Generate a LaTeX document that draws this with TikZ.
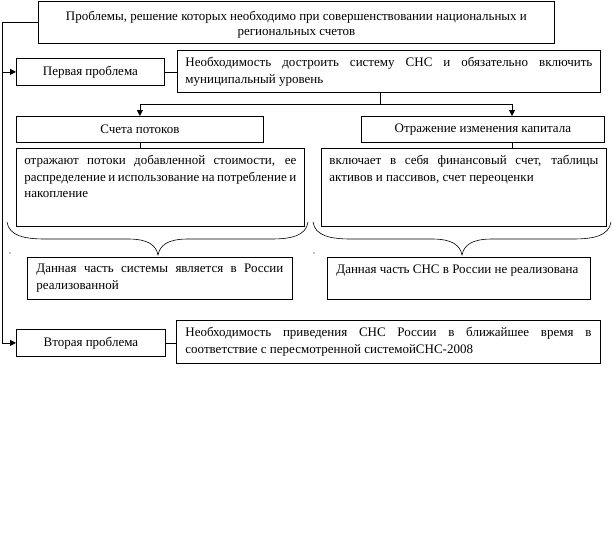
\documentclass[tikz,border=0pt]{standalone}
\usepackage{fontspec}
\setmainfont{Liberation Serif}
\usetikzlibrary{arrows.meta}
\newcommand\mytopbox[3]{\parbox[c][#2][t]{#1}{#3}}
\begin{document}
\begin{tikzpicture}[x=1pt,y=-1pt,
  box/.style={draw, line width=0.8pt, inner sep=0pt, anchor=north west,
    font=\fontsize{13}{16.5}\selectfont},
  ln/.style={line width=0.8pt},
  arr/.style={line width=0.8pt, -{Triangle[length=6pt,width=6pt]}}]
\useasboundingbox (0,0) rectangle (613,557);
% boxes
\node[box, minimum width=516pt, minimum height=42pt, align=center,
  font=\fontsize{13}{15}\selectfont] (top) at (38,1)
  {\rule{0pt}{13pt}Проблемы, решение которых необходимо при совершенствовании национальных и\\ региональных счетов};
\node[box, minimum width=148pt, minimum height=27pt] (p1) at (16,58) {Первая проблема};
\node[box, inner xsep=8pt, inner ysep=7pt] (r1) at (177,50)
  {\mytopbox{407pt}{28pt}{Необходимость достроить систему СНС и обязательно включить\linebreak муниципальный уровень}};
\node[box, minimum width=247pt, minimum height=26pt] (s1) at (16,116) {Счета потоков};
\node[box, minimum width=243pt, minimum height=26pt] (s2) at (361,116) {Отражение изменения капитала};
\node[box, inner xsep=8pt, inner ysep=7pt] (b1) at (16,148)
  {\mytopbox{272pt}{64pt}{отражают потоки добавленной стоимости, ее\linebreak распределение и использование на потребление и\linebreak накопление}};
\node[box, inner xsep=8pt, inner ysep=7pt] (b2) at (321,148)
  {\mytopbox{269pt}{64pt}{включает в себя финансовый счет, таблицы\linebreak активов и пассивов, счет переоценки}};
\node[box, inner xsep=9pt, inner ysep=7pt] (d1) at (27,257)
  {\mytopbox{247pt}{28pt}{Данная часть системы является в России\linebreak реализованной}};
\node[box, inner xsep=9pt, inner ysep=7pt] (d2) at (327,257)
  {\mytopbox{245pt}{28pt}{Данная часть СНС в России не реализована}};
\node[box, minimum width=149pt, minimum height=27pt] (p2) at (16,329) {Вторая проблема};
\node[box, inner xsep=9pt, inner ysep=7pt] (r2) at (176,320)
  {\mytopbox{406pt}{29pt}{Необходимость приведения СНС России в ближайшее время в\linebreak соответствие с пересмотренной системойСНС-2008}};
% helper coordinates
\coordinate (lx) at (2,0);
\coordinate (stemx) at (380,0);
\coordinate (hy) at (0,104);
\coordinate (s2x) at (512,0);
% connectors
\draw[arr] (top.west) -- (top.west -| lx) |- (p2.west);
\draw[arr] (p1.west -| lx) -- (p1.west);
\draw[ln] (p1.east) -- (p1.east -| r1.west);
\draw[ln] (p2.east) -- (p2.east -| r2.west);
\draw[ln] (stemx |- r1.south) -- (stemx |- hy);
\draw[arr] (stemx |- hy) -| (s1.north);
\draw[arr] (stemx |- hy) -| (s2x |- s2.north);
\draw[ln] (s1.south) -- (s1.south |- b1.north);
\draw[ln] (s2x |- s2.south) -- (s2x |- b2.north);
% braces
\draw[line width=0.6pt] (7,222) .. controls (9,236) and (25,239) .. (45,239) -- (128,239)
  .. controls (148,239) and (156,245) .. (158,255)
  .. controls (160,245) and (168,239) .. (188,239) -- (271,239)
  .. controls (291,239) and (306,236) .. (308,222);
\draw[line width=0.6pt] (313,222) .. controls (315,236) and (331,239) .. (351,239) -- (432,239)
  .. controls (452,239) and (460,245) .. (462,255)
  .. controls (464,245) and (472,239) .. (492,239) -- (573,239)
  .. controls (593,239) and (609,236) .. (611,222);
% small dots
\fill (10,253) circle (0.6pt);
\fill (314,253) circle (0.6pt);
\end{tikzpicture}
\end{document}
